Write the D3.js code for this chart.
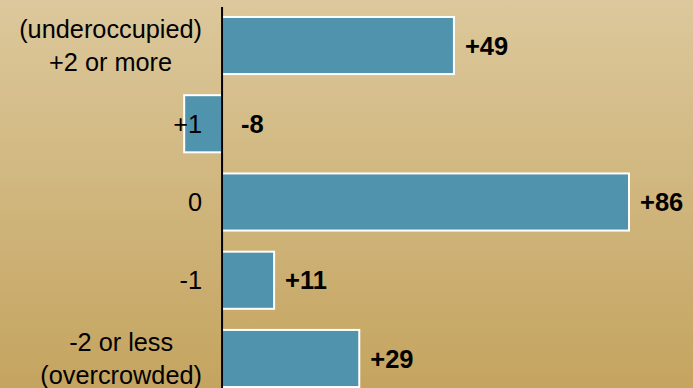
<!DOCTYPE html>
<html>
<head>
<meta charset="utf-8">
<script src="https://cdn.jsdelivr.net/npm/d3@7"></script>
<style>
  html, body { margin:0; padding:0; }
  body { width:693px; height:388px; overflow:hidden; }
  text { font-family: "Liberation Sans", Arial, sans-serif; }
</style>
</head>
<body>
<div id="chart"></div>
<script>
var categories = [["(underoccupied)", "+2 or more"], ["+1"], ["0"], ["-1"], ["-2 or less", "(overcrowded)"]];
var values = [49, -8, 86, 11, 29];
var valueLabels = ["+49", "-8", "+86", "+11", "+29"];

var width = 693, height = 388;

var svg = d3.select("#chart")
            .append("svg")
            .attr("width", width)
            .attr("height", height);

// background gradient
var grad = svg.append("defs").append("linearGradient")
    .attr("id", "bg")
    .attr("x1", 0).attr("y1", 0).attr("x2", 0).attr("y2", 1);
grad.append("stop").attr("offset", "0%").attr("stop-color", "#dcc89c");
grad.append("stop").attr("offset", "100%").attr("stop-color", "#c4a45f");

svg.append("rect")
    .attr("width", width)
    .attr("height", height)
    .attr("fill", "url(#bg)");

var x = d3.scaleLinear()
    .domain([-8, 86])
    .range([184.2, 629]);

var y = d3.scaleBand()
    .domain(d3.range(categories.length))
    .range([6.4, 397.6])
    .paddingInner(0.27)
    .paddingOuter(0.135);

// bars
svg.selectAll(".bar")
    .data(values)
    .enter().append("rect")
    .attr("class", "bar")
    .attr("x", function (d) { return x(Math.min(0, d)); })
    .attr("y", function (d, i) { return y(i); })
    .attr("width", function (d) { return Math.abs(x(d) - x(0)); })
    .attr("height", y.bandwidth())
    .attr("fill", "#4f93ad")
    .attr("stroke", "#ffffff")
    .attr("stroke-width", 2);

// axis line
svg.append("line")
    .attr("x1", x(0)).attr("x2", x(0))
    .attr("y1", 7).attr("y2", height)
    .attr("stroke", "#000")
    .attr("stroke-width", 2);

// value labels
svg.selectAll(".val")
    .data(values)
    .enter().append("text")
    .attr("class", "val")
    .attr("x", function (d) { return d >= 0 ? x(d) + 11 : x(0) + 19; })
    .attr("y", function (d, i) { return y(i) + y.bandwidth() / 2; })
    .attr("dy", "0.36em")
    .attr("font-size", "25.5px")
    .attr("font-weight", "bold")
    .attr("fill", "#000")
    .text(function (d, i) { return valueLabels[i]; });

// category labels: block right-aligned, lines centred in block
var lineH = 33;
var labelRight = 202;
categories.forEach(function (lines, i) {
  var cy = y(i) + y.bandwidth() / 2;
  var g = svg.append("g");
  var texts = lines.map(function (t, j) {
    return g.append("text")
      .attr("y", cy + (j - (lines.length - 1) / 2) * lineH)
      .attr("dy", "0.36em")
      .attr("font-size", "25.3px")
      .attr("fill", "#000")
      .attr("text-anchor", "middle")
      .text(t);
  });
  var w = d3.max(texts, function (t) { return t.node().getComputedTextLength(); });
  texts.forEach(function (t) { t.attr("x", labelRight - w / 2); });
});
</script>
</body>
</html>
